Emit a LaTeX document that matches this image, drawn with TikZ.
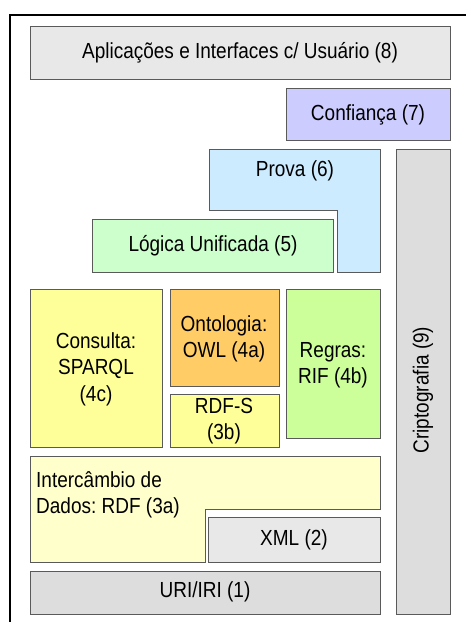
\documentclass[tikz,border=0pt]{standalone}
\usepackage{fontspec}
\usepackage{graphicx}
\setmainfont{Liberation Sans}
\frenchspacing
\definecolor{cEight}{HTML}{E8E8E8}
\definecolor{cSeven}{HTML}{CCCCFF}
\definecolor{cSix}{HTML}{CCEBFF}
\definecolor{cFive}{HTML}{CCFFCC}
\definecolor{cFourC}{HTML}{FFFF99}
\definecolor{cFourA}{HTML}{FFCC66}
\definecolor{cThreeB}{HTML}{FFFF99}
\definecolor{cFourB}{HTML}{CCFF99}
\definecolor{cThreeA}{HTML}{FFFFCC}
\definecolor{cTwo}{HTML}{E8E8E8}
\definecolor{cOne}{HTML}{DDDDDD}
\definecolor{cNine}{HTML}{DDDDDD}
\definecolor{edgegray}{HTML}{5A5A5A}
\begin{document}
\begin{tikzpicture}[x=1pt,y=-1pt,
  layer/.style={draw=edgegray,line width=1pt},
  lblbase/.style={inner sep=0pt,font=\fontsize{19}{23}\selectfont,text=black},
  lbl/.style={lblbase,align=center,yscale=1.15},
  lbll/.style={lblbase,align=left,yscale=1.15}]
\useasboundingbox (0,0) rectangle (466,622);
\fill[white] (0,0) rectangle (466,622);
% outer frame
\draw[line width=2pt,black] (466,15) -- (10,15) -- (10,622);
% layers
\draw[layer,fill=cEight] (30,26) rectangle (450,79);
\draw[layer,fill=cSeven] (286,88) rectangle (450,140);
\draw[layer,fill=cSix] (209,149) -- (380,149) -- (380,272) -- (337,272) -- (337,210) -- (209,210) -- cycle;
\draw[layer,fill=cFive] (92,219) rectangle (333,272);
\draw[layer,fill=cNine] (396,149) rectangle (450,614);
\draw[layer,fill=cFourC] (30,289) rectangle (162,447);
\draw[layer,fill=cFourA] (170,289) rectangle (279,386);
\draw[layer,fill=cThreeB] (170,394) rectangle (279,447);
\draw[layer,fill=cFourB] (286,289) rectangle (380,438);
\draw[layer,fill=cThreeA] (30,456) -- (380,456) -- (380,509) -- (205,509) -- (205,562) -- (30,562) -- cycle;
\draw[layer,fill=cTwo] (208,517) rectangle (380,562);
\draw[layer,fill=cOne] (30,571) rectangle (380,614);
% labels
\node[lbl] (l8) at (240,53) {Aplicações e Interfaces c/ Usuário (8)};
\node[lbl] (l7) at (368,115) {Confiança (7)};
\node[lbl] (l6) at (295,171) {Prova (6)};
\node[lbl] (l5) at (213,246) {Lógica Unificada (5)};
\node[lbl] (l4c) at (96,369) {Consulta:\\SPARQL\\(4c)};
\node[lbl] (l4a) at (224,339) {Ontologia:\\OWL (4a)};
\node[lbl] (l3b) at (224,421) {RDF-S\\(3b)};
\node[lbl] (l4b) at (333,365) {Regras:\\RIF (4b)};
\node[lbll,anchor=west] (l3a) at (36,495) {Intercâmbio de\\Dados: RDF (3a)};
\node[lbl] (l2) at (294,540) {XML (2)};
\node[lbl] (l1) at (205,592) {URI/IRI (1)};
\node[lblbase,rotate=90] (l9) at (423,390) {\scalebox{1}[1.15]{Criptografia (9)}};
\end{tikzpicture}
\end{document}
